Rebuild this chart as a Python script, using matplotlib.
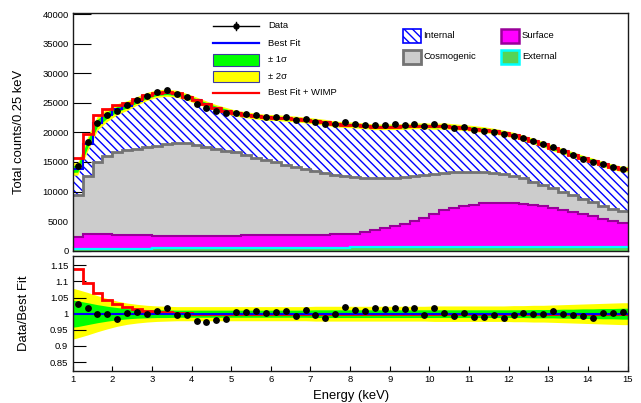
import numpy as np
import matplotlib
matplotlib.use("Agg")
import matplotlib.pyplot as plt
from matplotlib.patches import Rectangle
from matplotlib.lines import Line2D

plt.rcParams['font.family'] = ['Liberation Sans', 'DejaVu Sans']
plt.rcParams['hatch.linewidth'] = 1.0

# ---------------- data ----------------
energy_edges = np.linspace(1.0, 15.0, 57)          # 0.25 keV bins
energy_centers = 0.5 * (energy_edges[:-1] + energy_edges[1:])

data_counts = [14250, 18370, 21580, 22930, 23540, 24560, 25460, 26080, 26760, 27150,
               26420, 25910, 24840, 24110, 23660, 23320, 23320, 23070, 22900, 22590,
               22590, 22530, 22080, 22310, 21800, 21410, 21410, 21740, 21460, 21240,
               21290, 21240, 21350, 21290, 21460, 21010, 21400, 21120, 20790, 20840,
               20450, 20280, 20110, 19660, 19430, 19100, 18530, 17970, 17460, 16780,
               16170, 15550, 14990, 14650, 14200, 13860]

ratio = [1.031, 1.018, 0.999, 0.999, 0.984, 1.001, 1.005, 1.000, 1.008, 1.017,
         0.996, 0.996, 0.978, 0.974, 0.980, 0.985, 1.004, 1.004, 1.007, 1.002,
         1.004, 1.007, 0.992, 1.010, 0.996, 0.987, 1.000, 1.020, 1.011, 1.007,
         1.017, 1.014, 1.019, 1.013, 1.017, 0.995, 1.018, 1.001, 0.993, 1.001,
         0.991, 0.991, 0.995, 0.988, 0.995, 1.003, 1.000, 0.999, 1.008, 0.999,
         0.995, 0.993, 0.987, 1.001, 1.003, 1.005]

external = [350] * 8 + [420] * 8 + [500] * 12 + [560] * 12 + [620] * 8 + [680] * 8

surface = [1960, 2410, 2430, 2400, 2350, 2300, 2250, 2230, 2140, 2120,
           2120, 2120, 2120, 2120, 2120, 2140, 2060, 2080, 2100, 2100,
           2120, 2150, 2150, 2180, 2200, 2220, 2250, 2300, 2310, 2600,
           2870, 3290, 3640, 3990, 4390, 4990, 5640, 6240, 6690, 6990,
           7180, 7360, 7460, 7500, 7460, 7330, 7130, 6880, 6520, 6220,
           5870, 5520, 5120, 4720, 4370, 4070]

cosmogenic = [7150, 9800, 12210, 13190, 13920, 14300, 14640, 14880, 15190, 15490,
              15660, 15610, 15310, 14960, 14660, 14340, 14040, 13620, 13150, 12700,
              12310, 11880, 11490, 11120, 10770, 10410, 10090, 9820, 9580, 9180,
              8850, 8430, 8140, 7900, 7610, 7240, 6810, 6400, 6050, 5800,
              5550, 5320, 5070, 4830, 4600, 4270, 3910, 3600, 3390, 3070,
              2800, 2590, 2360, 2200, 2050, 1890]

wimp_ratio = [1.139, 1.096, 1.065, 1.042, 1.030, 1.020, 1.0135, 1.008, 1.006, 1.004,
              1.002, 1.001] + [1.0] * 44

band_energy = np.concatenate([[1.0], energy_centers, [15.0]])
sigma2 = ([0.079, 0.075, 0.066, 0.056, 0.047, 0.039, 0.033, 0.029, 0.026, 0.024, 0.023]
          + [0.022] * 14 + [0.023] * 12 + [0.024] * 8
          + [0.025, 0.025, 0.026, 0.026, 0.027, 0.028, 0.029, 0.030, 0.031, 0.032, 0.033, 0.034]
          + [0.034])
sigma1 = ([0.042, 0.040, 0.034, 0.028, 0.023, 0.019, 0.016, 0.014, 0.013, 0.012, 0.012]
          + [0.011] * 14 + [0.012] * 12 + [0.012] * 8
          + [0.012, 0.012, 0.013, 0.013, 0.013, 0.014, 0.014, 0.015, 0.015, 0.016, 0.016, 0.017]
          + [0.017])

y_ticks_top = [0, 5000, 10000, 15000, 20000, 25000, 30000, 35000, 40000]
y_ticks_ratio = [0.85, 0.9, 0.95, 1.0, 1.05, 1.1, 1.15]
y_ticklabels_ratio = ['0.85', '0.9', '0.95', '1', '1.05', '1.1', '1.15']
x_ticks = list(range(1, 16))

# ---------------- derived quantities ----------------
data_counts = np.array(data_counts, float)
ratio = np.array(ratio)
total = data_counts / ratio
lvl_ext = np.array(external, float)
lvl_surf = lvl_ext + np.array(surface, float)
lvl_cosmo = lvl_surf + np.array(cosmogenic, float)
wimp_ratio = np.array(wimp_ratio)
sigma1 = np.array(sigma1)
sigma2 = np.array(sigma2)
band_total = np.concatenate([[total[0]], total, [total[-1]]])

# ---------------- figure ----------------
W, H = 641, 403
fig = plt.figure(figsize=(W / 100, H / 100), dpi=100)


def fx(p):
    return p / W


def fy(p):
    return 1 - p / H


L, R = 72.7, 627.5
ax1 = fig.add_axes([fx(L), fy(250.7), fx(R) - fx(L), fy(12.7) - fy(250.7)])
ax2 = fig.add_axes([fx(L), fy(370.7), fx(R) - fx(L), fy(255.7) - fy(370.7)])

BLUE = '#0000ff'
RED = '#ff0000'
GREEN = '#00ff00'
YELLOW = '#ffff00'
MAGENTA = '#ff00ff'
PURPLE = '#990099'
GRAY_F = '#cccccc'
GRAY_L = '#737373'
EXT_F = '#55d455'
CYAN = '#00ffff'
HATCH = '\\\\\\\\'

# stack: drawn from top level down (as THStack does)
ax1.stairs(total, energy_edges, baseline=0, fill=True, facecolor='white',
           edgecolor=BLUE, hatch=HATCH, lw=0, zorder=1)
ax1.stairs(lvl_cosmo, energy_edges, baseline=0, fill=True, facecolor=GRAY_F, lw=0, zorder=2)
ax1.stairs(lvl_cosmo, energy_edges, baseline=None, color=GRAY_L, lw=2.0, zorder=2.1)
ax1.stairs(lvl_surf, energy_edges, baseline=0, fill=True, facecolor=MAGENTA, lw=0, zorder=3)
ax1.stairs(lvl_surf, energy_edges, baseline=None, color=PURPLE, lw=1.5, zorder=3.1)
ax1.stairs(lvl_ext, energy_edges, baseline=0, fill=True, facecolor=EXT_F, lw=0, zorder=4)
ax1.stairs(lvl_ext, energy_edges, baseline=None, color=CYAN, lw=1.6, zorder=4.1)

# error bands
ax1.fill_between(band_energy, band_total * (1 - sigma2), band_total * (1 + sigma2),
                 color=YELLOW, lw=0, zorder=5)
ax1.fill_between(band_energy, band_total * (1 - sigma1), band_total * (1 + sigma1),
                 color=GREEN, lw=0, zorder=5.1)
ax1.stairs(total, energy_edges, baseline=None, color=BLUE, lw=1.5, zorder=6)
ax1.stairs(total * wimp_ratio, energy_edges, baseline=None, color=RED, lw=2.0, zorder=7)
ax1.plot(energy_centers, data_counts, 'o', color='black', ms=3.9, zorder=8)

ax1.set_xlim(1, 15)
ax1.set_ylim(0, 40220)
ax1.set_xticks(x_ticks)
ax1.set_yticks(y_ticks_top)
ax1.set_yticklabels([str(v) for v in y_ticks_top])
ax1.tick_params(axis='y', direction='in', length=13, width=0.8, labelsize=6.8, pad=2.7)
ax1.tick_params(axis='x', direction='in', length=3.4, width=0.8, labelbottom=False)

# ratio panel
ax2.fill_between(band_energy, 1 - sigma2, 1 + sigma2, color=YELLOW, lw=0, zorder=1)
ax2.fill_between(band_energy, 1 - sigma1, 1 + sigma1, color=GREEN, lw=0, zorder=2)
ax2.stairs(wimp_ratio, energy_edges, baseline=None, color=RED, lw=2.0, zorder=3)
ax2.axhline(1.0, color=BLUE, lw=1.5, zorder=4)
ax2.plot(energy_centers, ratio, 'o', color='black', ms=3.9, zorder=5)

ax2.set_xlim(1, 15)
ax2.set_ylim(0.823, 1.18)
ax2.set_xticks(x_ticks)
ax2.set_xticklabels([str(v) for v in x_ticks])
ax2.set_yticks(y_ticks_ratio)
ax2.set_yticklabels(y_ticklabels_ratio)
ax2.tick_params(axis='y', direction='in', length=9.2, width=0.8, labelsize=6.8, pad=3.2)
ax2.tick_params(axis='x', direction='in', length=3.6, width=0.8, labelsize=6.8, pad=3.4)

for ax in (ax1, ax2):
    for s in ax.spines.values():
        s.set_linewidth(1.0)
        s.set_color('#1a1a1a')
        s.set_zorder(10)

fig.text(fx(19.5), fy(131.7), 'Total counts/0.25 keV', rotation=90,
         ha='center', va='center', fontsize=9.4)
fig.text(fx(24), fy(313), 'Data/Best Fit', rotation=90,
         ha='center', va='center', fontsize=9.4)
fig.text(fx(351), fy(395.5), 'Energy (keV)', ha='center', va='center', fontsize=9.4)

# ---------------- legends ----------------
tf = fig.transFigure
LFS = 6.8


def leg_text(x, y, s):
    fig.text(fx(x), fy(y), s, ha='left', va='center', fontsize=LFS)


# left legend
hx0, hx1, tx = 212.7, 259.0, 268.3
rows = [26.0, 43.3, 60.0, 76.7, 92.7]
fig.add_artist(Line2D([fx(hx0), fx(hx1)], [fy(rows[0])] * 2, transform=tf, color='black', lw=1.0))
fig.add_artist(Line2D([fx(236)] * 2, [fy(rows[0] - 3.8), fy(rows[0] + 3.8)], transform=tf,
                      color='black', lw=1.0))
fig.add_artist(Line2D([fx(236)], [fy(rows[0])], transform=tf, marker='o', ms=3.6,
                      color='black', lw=0))
leg_text(tx, rows[0], 'Data')
fig.add_artist(Line2D([fx(hx0), fx(hx1)], [fy(rows[1])] * 2, transform=tf, color=BLUE, lw=1.6))
leg_text(tx, rows[1], 'Best Fit')
for r, col, lab in ((rows[2], GREEN, '± 1σ'), (rows[3], YELLOW, '± 2σ')):
    fig.add_artist(Rectangle((fx(hx0), fy(r + 5.7)), fx(hx1) - fx(hx0), fy(r - 5.7) - fy(r + 5.7),
                             transform=tf, facecolor=col, edgecolor='#3c3ca0', lw=0.8))
    leg_text(tx, r, lab)
fig.add_artist(Line2D([fx(hx0), fx(hx1)], [fy(rows[4])] * 2, transform=tf, color=RED, lw=1.6))
leg_text(tx, rows[4], 'Best Fit + WIMP')

# right legend
boxes = [
    (401.7, 36.0, 'white', BLUE, 1.2, HATCH, 'Internal'),
    (401.7, 56.7, GRAY_F, GRAY_L, 2.0, None, 'Cosmogenic'),
    (500.0, 36.0, MAGENTA, PURPLE, 1.8, None, 'Surface'),
    (500.0, 56.7, EXT_F, CYAN, 1.8, None, 'External'),
]
for bx, by, fc, ec, lw, hatch, lab in boxes:
    fig.add_artist(Rectangle((fx(bx + 0.8), fy(by + 6.8)), fx(18.0), fy(0) - fy(13.6),
                             transform=tf, facecolor=fc, edgecolor=ec, lw=lw, hatch=hatch))
    leg_text(bx + 21.8, by, lab)

fig.savefig('out.png', dpi=100)
